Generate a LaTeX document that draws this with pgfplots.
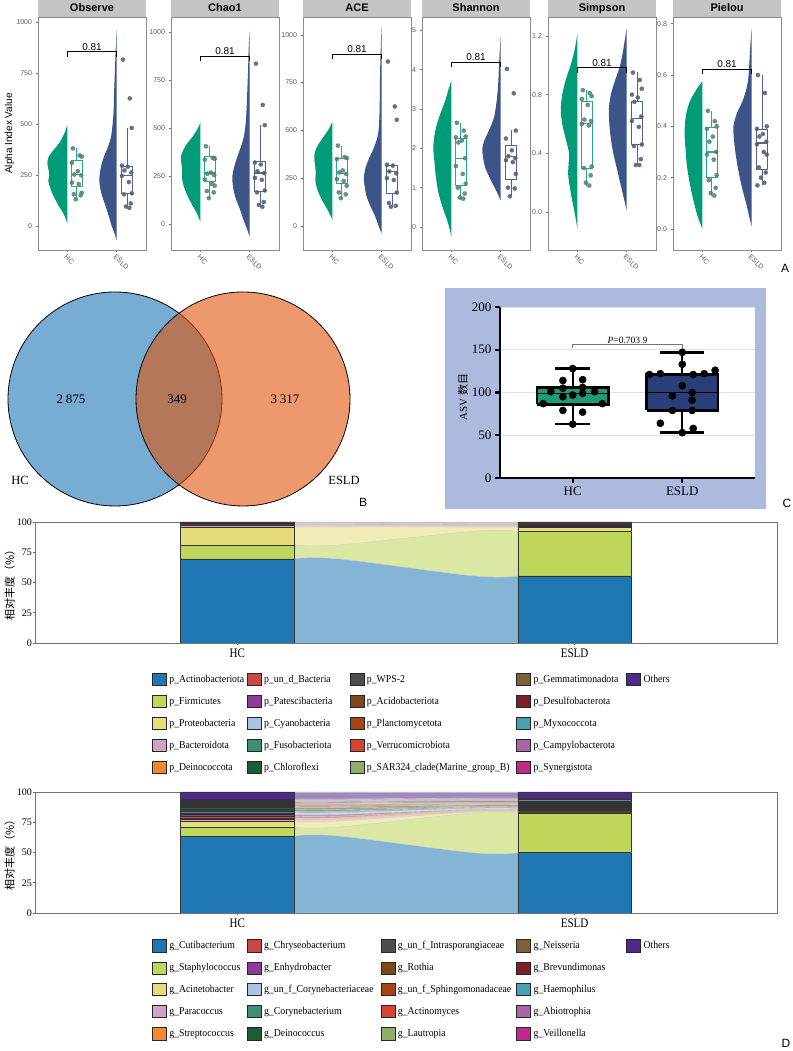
\documentclass[border=0pt]{standalone}
\usepackage{fontspec}
\setmainfont{Liberation Serif}
\setsansfont{Liberation Sans}
\newfontfamily\cjk{Noto Sans CJK SC}
\usepackage{graphicx}
\usepackage{pgfplots}
\usepackage{pgfplotstable}
\pgfplotsset{compat=1.18}

% colours
\definecolor{hcg}{RGB}{0,156,122}
\definecolor{esg}{RGB}{60,84,136}
\definecolor{hcbox}{RGB}{40,168,138}
\definecolor{esbox}{RGB}{78,98,148}
\definecolor{hcpt}{RGB}{62,138,118}
\definecolor{espt}{RGB}{72,86,126}
\definecolor{strip}{RGB}{196,196,196}
\definecolor{vblue}{RGB}{119,172,211}
\definecolor{vor}{RGB}{226,82,6}
\definecolor{cbg}{RGB}{172,186,222}
\definecolor{cgreen}{RGB}{31,154,120}
\definecolor{cnavy}{RGB}{42,62,122}
\definecolor{c1}{RGB}{31,119,180}
\definecolor{c2}{RGB}{190,214,90}
\definecolor{c3}{RGB}{230,220,120}
\definecolor{c4}{RGB}{206,164,194}
\definecolor{c5}{RGB}{242,136,48}
\definecolor{c6}{RGB}{200,72,72}
\definecolor{c7}{RGB}{142,58,152}
\definecolor{c8}{RGB}{172,194,224}
\definecolor{c9}{RGB}{62,144,112}
\definecolor{c10}{RGB}{27,94,53}
\definecolor{c11}{RGB}{77,77,77}
\definecolor{c12}{RGB}{123,74,26}
\definecolor{c13}{RGB}{168,67,22}
\definecolor{c14}{RGB}{214,68,54}
\definecolor{c15}{RGB}{143,174,106}
\definecolor{c16}{RGB}{125,95,58}
\definecolor{c17}{RGB}{122,32,40}
\definecolor{c18}{RGB}{74,160,176}
\definecolor{c19}{RGB}{168,102,168}
\definecolor{c20}{RGB}{192,40,138}
\definecolor{c21}{RGB}{79,42,140}

\tikzset{lab/.style={above, inner sep=1pt, font=\sffamily\fontsize{10}{11}\selectfont}}
\pgfplotsset{
  every axis title shift=0pt,
  facet/.style={
    scale only axis, width=108pt, height=233pt, anchor=south west,
    xmin=0.4, xmax=2.6, xtick={1,2}, xticklabels={HC,ESLD},
    axis line style={black!45, line width=0.6pt},
    tick style={black!55, line width=0.5pt}, tick align=outside, major tick length=2.5pt,
    xtick pos=bottom, ytick pos=left,
    /pgf/number format/assume math mode=true,
    /pgf/number format/1000 sep={},
    yticklabel style={font=\sffamily\fontsize{7}{8}\selectfont, text=black!65},
    xticklabel style={rotate=-45, anchor=north west, inner sep=1pt,
      font=\sffamily\fontsize{7}{8}\selectfont, text=black!65},
    title style={at={(0.5,1)}, anchor=south, fill=strip, minimum width=108pt,
      minimum height=17pt, inner sep=0pt, text height=8.2pt, text depth=2.3pt,
      font=\sffamily\bfseries\fontsize{11}{13}\selectfont},
  },
  hcv/.style={fill=hcg, draw=none, smooth, tension=0.5},
  esv/.style={fill=esg, draw=none, smooth, tension=0.5},
  hcb/.style={draw=hcbox, line width=0.7pt, no marks},
  esbx/.style={draw=esbox, line width=0.7pt, no marks},
  hcp/.style={only marks, mark=*, mark size=2.1pt,
    mark options={fill=hcpt, draw=black!55, line width=0.3pt, fill opacity=0.85}},
  esp/.style={only marks, mark=*, mark size=2.1pt,
    mark options={fill=espt, draw=black!55, line width=0.3pt, fill opacity=0.85}},
  brk/.style={black, line width=0.6pt, no marks},
  dax/.style={
    scale only axis, width=742pt, height=121pt, anchor=south west,
    xmin=0.4, xmax=2.6, ymin=0, ymax=100,
    xtick={1,2}, xticklabels={\scalebox{0.85}[1]{HC},\scalebox{0.85}[1]{ESLD}},
    ytick={0,25,50,75,100},
    axis line style={black!55, line width=0.6pt},
    tick style={black!60, line width=0.5pt}, tick align=outside, major tick length=2pt,
    xtick pos=bottom, ytick pos=left,
    /pgf/number format/assume math mode=true,
    yticklabel style={font=\fontsize{10}{11}\selectfont, inner sep=1pt},
    xticklabel style={font=\fontsize{13}{14}\selectfont},
    ylabel={\cjk 相对丰度（\%）},
    ylabel style={at={(axis description cs:-0.034,0.5)}, anchor=center,
      font=\fontsize{11}{12}\selectfont},
    legend columns=5, legend cell align=left,
    legend style={draw=none, fill=none, inner sep=0pt, outer sep=0pt,
      column sep=0pt, row sep=9.2pt, font=\fontsize{10.5}{12}\selectfont,
      nodes={inner sep=0pt, outer sep=0pt}},
  },
  dbar/.style={
    scale only axis, width=742pt, height=121pt, anchor=south west,
    xmin=0.4, xmax=2.6, ymin=0, ymax=100, hide axis,
    ybar stacked, bar width=0.336,
  },
  fl/.style={fill=#1!55!white, draw=black!18, line width=0.4pt, smooth, tension=0.6, forget plot},
  lk/.style={legend image code/.code={\draw[draw=black!85, line width=0.8pt, fill=#1] (0pt,-6pt) rectangle (14pt,6pt);}},
}

% box: style, left, right, centre, lower whisker, lower quartile, median, upper quartile, upper whisker
\newcommand\bx[9]{%
  \addplot[#1] coordinates {(#4,#5)(#4,#6)};
  \addplot[#1] coordinates {(#4,#8)(#4,#9)};
  \addplot[#1, fill=white] coordinates {(#2,#6)(#3,#6)(#3,#8)(#2,#8)(#2,#6)};
  \addplot[#1, line width=1.1pt] coordinates {(#2,#7)(#3,#7)};
}
\newcommand\lgi[3]{\addlegendimage{lk=#1}\addlegendentry{\makebox[#2][l]{\hspace{2.5pt}\scalebox{0.93}[1]{#3}}}}
\newcommand\lge{\addlegendimage{empty legend}\addlegendentry{}}

% phylum and genus composition (%), HC = 1, ESLD = 2
\pgfplotstableread{
x s1 s2 s3 s4 s5 s6 s7 s8 s9 s10 s11 s12 s13 s14 s15 s16 s17 s18 s19 s20 s21
1 69.5 11.5 15.0 1.3 0.4 0.3 0.3 0.3 0.3 0.2 0.2 0.15 0.1 0.1 0.05 0.05 0.05 0.05 0.05 0.05 0.05
2 55.5 36.8 3.5 0.8 0.6 0.5 0.3 0.3 0.2 0.2 0.2 0.2 0.2 0.1 0.1 0.1 0.1 0.1 0.1 0.05 0.05
}\phyBar
\pgfplotstableread{
x u1 u2 u3 u4 u5 u6 u7 u8 u9 u10 u11 u12 u13 u14 u15 u16 u17 u18 u19 u20 u21
1.168 69.5 81.0 96.0 97.3 97.7 98.0 98.3 98.6 98.9 99.1 99.3 99.45 99.55 99.65 99.7 99.75 99.8 99.85 99.9 99.95 100
1.30 69.5 81.0 96.0 97.3 97.7 98.0 98.3 98.6 98.9 99.1 99.3 99.45 99.55 99.65 99.7 99.75 99.8 99.85 99.9 99.95 100
1.70 55.5 92.3 95.8 96.6 97.2 97.7 98.0 98.3 98.5 98.7 98.9 99.1 99.3 99.4 99.5 99.6 99.7 99.8 99.9 99.95 100
1.832 55.5 92.3 95.8 96.6 97.2 97.7 98.0 98.3 98.5 98.7 98.9 99.1 99.3 99.4 99.5 99.6 99.7 99.8 99.9 99.95 100
}\phyFlow
\pgfplotstableread{
x s1 s2 s3 s4 s5 s6 s7 s8 s9 s10 s11 s12 s13 s14 s15 s16 s17 s18 s19 s20 s21
1 63.6 7.4 5.0 1.6 1.0 1.4 1.6 1.2 1.3 1.4 1.6 1.0 1.0 0.8 0.6 0.8 0.8 0.8 0.7 0.6 5.8
2 49.8 33.0 0.7 0.3 1.2 0.3 0.3 0.8 0.8 0.3 0.5 1.2 0.4 0.8 0.4 0.9 1.0 1.0 0.6 0.7 5.0
}\genBar
\pgfplotstableread{
x u1 u2 u3 u4 u5 u6 u7 u8 u9 u10 u11 u12 u13 u14 u15 u16 u17 u18 u19 u20 u21
1.168 63.6 71.0 76.0 77.6 78.6 80.0 81.6 82.8 84.1 85.5 87.1 88.1 89.1 89.9 90.5 91.3 92.1 92.9 93.6 94.2 100
1.30 63.6 71.0 76.0 77.6 78.6 80.0 81.6 82.8 84.1 85.5 87.1 88.1 89.1 89.9 90.5 91.3 92.1 92.9 93.6 94.2 100
1.70 49.8 82.8 83.5 83.8 85.0 85.3 85.6 86.4 87.2 87.5 88.0 89.2 89.6 90.4 90.8 91.7 92.7 93.7 94.3 95.0 100
1.832 49.8 82.8 83.5 83.8 85.0 85.3 85.6 86.4 87.2 87.5 88.0 89.2 89.6 90.4 90.8 91.7 92.7 93.7 94.3 95.0 100
}\genFlow

\begin{document}
\begin{tikzpicture}
\useasboundingbox (0,0) rectangle (792pt,1051pt);

% ---------------- A: Observe
\begin{axis}[facet, at={(38pt,801pt)}, title=Observe, ymin=-118, ymax=1024,
  ytick={0,250,500,750,1000}, ylabel={Alpha Index Value},
  ylabel style={at={(axis description cs:-0.264,0.5)}, anchor=center,
    font=\sffamily\fontsize{10}{12}\selectfont}]
\addplot[hcv] table[x expr=1-\thisrow{w}, y=v, row sep=\\]{v w\\ 13 0\\ 60 0.08\\ 95 0.17\\ 130 0.25\\ 160 0.31\\ 200 0.37\\ 225 0.39\\ 250 0.37\\ 280 0.39\\ 310 0.41\\ 340 0.38\\ 370 0.29\\ 405 0.17\\ 450 0.07\\ 495 0\\};
\addplot[esv] table[x expr=2-\thisrow{w}, y=v, row sep=\\]{v w\\ -70 0\\ -30 0.05\\ 0 0.10\\ 50 0.16\\ 95 0.22\\ 160 0.31\\ 217 0.35\\ 258 0.34\\ 307 0.30\\ 350 0.24\\ 390 0.17\\ 440 0.11\\ 500 0.08\\ 560 0.06\\ 650 0.05\\ 750 0.035\\ 850 0.02\\ 960 0\\};
\bx{hcb}{1.08}{1.30}{1.19}{131}{196}{250}{320}{380}
\bx{esbx}{2.10}{2.32}{2.21}{88}{160}{245}{294}{480}
\addplot[hcp] coordinates {(1.11,380)(1.25,345)(1.29,340)(1.09,310)(1.21,268)(1.14,252)(1.28,248)(1.09,212)(1.23,205)(1.29,162)(1.13,155)(1.27,150)(1.17,131)};
\addplot[esp] coordinates {(2.13,815)(2.27,625)(2.31,480)(2.11,295)(2.23,290)(2.16,272)(2.30,262)(2.11,245)(2.25,215)(2.31,160)(2.15,155)(2.29,110)(2.19,95)(2.26,88)};
\addplot[brk] coordinates {(1,830)(1,855)(2,855)(2,830)};
\node[lab] at (axis cs:1.5,855) {0.81};
\end{axis}

% ---------------- A: Chao1
\begin{axis}[facet, at={(171pt,801pt)}, title=Chao1, ymin=-135, ymax=1078,
  ytick={0,250,500,750,1000}]
\addplot[hcv] table[x expr=1-\thisrow{w}, y=v, row sep=\\]{v w\\ 12 0\\ 60 0.08\\ 100 0.17\\ 140 0.25\\ 175 0.31\\ 215 0.36\\ 250 0.38\\ 280 0.37\\ 320 0.39\\ 350 0.40\\ 385 0.35\\ 420 0.27\\ 455 0.16\\ 495 0.06\\ 529 0\\};
\addplot[esv] table[x expr=2-\thisrow{w}, y=v, row sep=\\]{v w\\ -64 0\\ -20 0.06\\ 20 0.12\\ 80 0.20\\ 140 0.29\\ 200 0.34\\ 250 0.35\\ 300 0.31\\ 350 0.25\\ 400 0.18\\ 450 0.12\\ 520 0.08\\ 600 0.06\\ 700 0.045\\ 800 0.03\\ 900 0.02\\ 1003 0\\};
\bx{hcb}{1.08}{1.30}{1.19}{135}{224}{266}{355}{405}
\bx{esbx}{2.10}{2.32}{2.21}{90}{172}{266}{324}{515}
\addplot[hcp] coordinates {(1.11,405)(1.25,345)(1.29,340)(1.09,335)(1.21,268)(1.14,262)(1.28,255)(1.09,232)(1.23,210)(1.29,200)(1.13,172)(1.27,165)(1.17,135)};
\addplot[esp] coordinates {(2.13,835)(2.27,620)(2.31,515)(2.11,320)(2.23,310)(2.16,275)(2.30,265)(2.11,240)(2.25,230)(2.31,175)(2.15,165)(2.29,115)(2.19,100)(2.26,90)};
\addplot[brk] coordinates {(1,848)(1,874)(2,874)(2,848)};
\node[lab] at (axis cs:1.5,874) {0.81};
\end{axis}

% ---------------- A: ACE
\begin{axis}[facet, at={(303pt,801pt)}, title=ACE, ymin=-126, ymax=1093,
  ytick={0,250,500,750,1000}]
\addplot[hcv] table[x expr=1-\thisrow{w}, y=v, row sep=\\]{v w\\ 31 0\\ 80 0.09\\ 120 0.18\\ 160 0.26\\ 200 0.32\\ 240 0.35\\ 270 0.34\\ 310 0.35\\ 350 0.37\\ 385 0.36\\ 420 0.30\\ 460 0.20\\ 500 0.09\\ 546 0\\};
\addplot[esv] table[x expr=2-\thisrow{w}, y=v, row sep=\\]{v w\\ -38 0\\ 0 0.06\\ 50 0.13\\ 100 0.22\\ 150 0.30\\ 200 0.34\\ 250 0.36\\ 300 0.33\\ 350 0.26\\ 400 0.17\\ 450 0.10\\ 500 0.06\\ 600 0.04\\ 700 0.035\\ 800 0.03\\ 900 0.02\\ 1044 0\\};
\bx{hcb}{1.08}{1.30}{1.19}{145}{223}{276}{354}{420}
\bx{esbx}{2.10}{2.32}{2.21}{100}{171}{284}{319}{325}
\addplot[hcp] coordinates {(1.11,420)(1.25,360)(1.29,355)(1.09,350)(1.21,290)(1.14,280)(1.28,272)(1.09,245)(1.23,235)(1.29,210)(1.13,175)(1.27,165)(1.17,145)};
\addplot[esp] coordinates {(2.13,860)(2.27,625)(2.31,555)(2.11,320)(2.23,315)(2.16,285)(2.30,275)(2.11,250)(2.25,240)(2.31,175)(2.15,120)(2.29,105)(2.19,100)};
\addplot[brk] coordinates {(1,874)(1,900)(2,900)(2,874)};
\node[lab] at (axis cs:1.5,900) {0.81};
\end{axis}

% ---------------- A: Shannon
\begin{axis}[facet, at={(422pt,801pt)}, title=Shannon, ymin=-0.585, ymax=5.34,
  ytick={0,1,2,3,4,5}]
\addplot[hcv] table[x expr=1-\thisrow{w}, y=v, row sep=\\]{v w\\ -0.25 0\\ 0.1 0.07\\ 0.5 0.18\\ 0.9 0.27\\ 1.3 0.32\\ 1.7 0.35\\ 2.0 0.37\\ 2.3 0.35\\ 2.6 0.30\\ 2.9 0.22\\ 3.2 0.13\\ 3.5 0.06\\ 3.73 0\\};
\addplot[esv] table[x expr=2-\thisrow{w}, y=v, row sep=\\]{v w\\ 0.68 0\\ 0.9 0.08\\ 1.2 0.20\\ 1.5 0.31\\ 1.8 0.36\\ 2.0 0.37\\ 2.2 0.33\\ 2.5 0.22\\ 2.8 0.13\\ 3.2 0.08\\ 3.6 0.05\\ 4.0 0.035\\ 4.4 0.02\\ 4.83 0\\};
\bx{hcb}{1.08}{1.30}{1.19}{0.72}{1.06}{1.74}{2.25}{2.65}
\bx{esbx}{2.10}{2.32}{2.21}{0.78}{1.2}{1.8}{2.08}{2.46}
\addplot[hcp] coordinates {(1.11,2.65)(1.25,2.45)(1.29,2.30)(1.09,2.28)(1.21,2.20)(1.14,2.15)(1.28,1.75)(1.09,1.55)(1.23,1.35)(1.29,1.10)(1.13,1.00)(1.27,0.85)(1.17,0.75)(1.24,0.72)};
\addplot[esp] coordinates {(2.13,4.02)(2.27,3.40)(2.31,2.45)(2.11,2.25)(2.23,1.95)(2.16,1.80)(2.30,1.75)(2.11,1.70)(2.25,1.65)(2.31,1.35)(2.15,1.00)(2.29,0.98)(2.19,0.78)};
\addplot[brk] coordinates {(1,4.06)(1,4.19)(2,4.19)(2,4.06)};
\node[lab] at (axis cs:1.5,4.19) {0.81};
\end{axis}

% ---------------- A: Simpson
\begin{axis}[facet, at={(548pt,801pt)}, title=Simpson, ymin=-0.259, ymax=1.329,
  ytick={0,0.4,0.8,1.2},
  yticklabel style={/pgf/number format/.cd, fixed, fixed zerofill, precision=1}]
\addplot[hcv] table[x expr=1-\thisrow{w}, y=v, row sep=\\]{v w\\ -0.12 0\\ 0.0 0.06\\ 0.1 0.12\\ 0.2 0.17\\ 0.26 0.19\\ 0.33 0.18\\ 0.4 0.17\\ 0.5 0.24\\ 0.6 0.31\\ 0.7 0.34\\ 0.8 0.31\\ 0.9 0.24\\ 1.0 0.14\\ 1.1 0.06\\ 1.22 0\\};
\addplot[esv] table[x expr=2-\thisrow{w}, y=v, row sep=\\]{v w\\ 0.014 0\\ 0.1 0.06\\ 0.2 0.13\\ 0.3 0.20\\ 0.4 0.27\\ 0.5 0.32\\ 0.6 0.35\\ 0.7 0.36\\ 0.8 0.32\\ 0.9 0.23\\ 1.0 0.13\\ 1.1 0.07\\ 1.25 0\\};
\bx{hcb}{1.08}{1.30}{1.19}{0.18}{0.30}{0.60}{0.757}{0.83}
\bx{esbx}{2.10}{2.32}{2.21}{0.32}{0.46}{0.64}{0.757}{0.957}
\addplot[hcp] coordinates {(1.11,0.83)(1.25,0.81)(1.29,0.79)(1.09,0.77)(1.21,0.73)(1.14,0.63)(1.28,0.62)(1.09,0.60)(1.23,0.59)(1.29,0.31)(1.13,0.30)(1.27,0.25)(1.17,0.20)(1.24,0.18)};
\addplot[esp] coordinates {(2.13,0.95)(2.27,0.90)(2.31,0.84)(2.11,0.80)(2.23,0.78)(2.16,0.75)(2.30,0.65)(2.11,0.62)(2.25,0.58)(2.31,0.46)(2.15,0.45)(2.29,0.36)(2.19,0.32)(2.26,0.32)};
\addplot[brk] coordinates {(1,0.95)(1,0.984)(2,0.984)(2,0.95)};
\node[lab] at (axis cs:1.5,0.984) {0.81};
\end{axis}

% ---------------- A: Pielou
\begin{axis}[facet, at={(673pt,801pt)}, title=Pielou, ymin=-0.082, ymax=0.826,
  ytick={0,0.2,0.4,0.6,0.8},
  yticklabel style={/pgf/number format/.cd, fixed, fixed zerofill, precision=1}]
\addplot[hcv] table[x expr=1-\thisrow{w}, y=v, row sep=\\]{v w\\ 0 0\\ 0.05 0.10\\ 0.1 0.17\\ 0.15 0.23\\ 0.2 0.28\\ 0.25 0.32\\ 0.3 0.34\\ 0.35 0.36\\ 0.4 0.36\\ 0.45 0.33\\ 0.5 0.25\\ 0.55 0.10\\ 0.575 0\\};
\addplot[esv] table[x expr=2-\thisrow{w}, y=v, row sep=\\]{v w\\ 0.01 0\\ 0.05 0.05\\ 0.1 0.11\\ 0.15 0.18\\ 0.2 0.24\\ 0.25 0.29\\ 0.3 0.33\\ 0.35 0.36\\ 0.4 0.37\\ 0.45 0.30\\ 0.5 0.18\\ 0.55 0.10\\ 0.6 0.06\\ 0.7 0.03\\ 0.78 0\\};
\bx{hcb}{1.08}{1.30}{1.19}{0.13}{0.20}{0.30}{0.396}{0.46}
\bx{esbx}{2.10}{2.32}{2.21}{0.17}{0.234}{0.335}{0.387}{0.60}
\addplot[hcp] coordinates {(1.11,0.46)(1.25,0.42)(1.29,0.40)(1.09,0.39)(1.21,0.36)(1.14,0.34)(1.28,0.30)(1.09,0.29)(1.23,0.27)(1.29,0.21)(1.13,0.19)(1.27,0.16)(1.17,0.14)(1.24,0.13)};
\addplot[esp] coordinates {(2.13,0.60)(2.27,0.53)(2.31,0.40)(2.11,0.39)(2.23,0.37)(2.16,0.36)(2.30,0.34)(2.11,0.33)(2.25,0.30)(2.31,0.29)(2.15,0.24)(2.29,0.22)(2.19,0.20)(2.26,0.18)(2.12,0.17)};
\addplot[brk] coordinates {(1,0.603)(1,0.623)(2,0.623)(2,0.603)};
\node[lab] at (axis cs:1.5,0.623) {0.81};
\end{axis}

% ---------------- C: ASV counts
\fill[cbg] (445pt,542pt) rectangle (766pt,763pt);
\begin{axis}[scale only axis, width=255pt, height=171pt, at={(500pt,573pt)}, anchor=south west,
  xmin=0.336, xmax=2.664, ymin=0, ymax=200,
  axis x line*=bottom, axis y line*=left,
  axis line style={line width=2.4pt, black},
  tick style={line width=2.2pt, black}, tick align=outside, major tick length=5pt,
  xtick={1,2}, xticklabels={HC,ESLD}, ytick={0,50,100,150,200},
  ymajorgrids, grid style={black!12, line width=0.6pt},
  axis background/.style={fill=white},
  ticklabel style={font=\fontsize{13}{14}\selectfont},
  /pgf/number format/assume math mode=true,
  ylabel={ASV {\cjk 数目}},
  ylabel style={at={(axis description cs:-0.145,0.474)}, anchor=center, font=\fontsize{11}{12}\selectfont},
  clip=false]
% HC box
\addplot[black, line width=2.4pt, no marks] coordinates {(1,63)(1,86)};
\addplot[black, line width=2.4pt, no marks] coordinates {(1,106)(1,128)};
\addplot[black, line width=2.4pt, no marks] coordinates {(0.84,63)(1.16,63)};
\addplot[black, line width=2.4pt, no marks] coordinates {(0.84,128)(1.16,128)};
\addplot[black, line width=2.4pt, fill=cgreen, no marks] coordinates {(0.675,86)(1.325,86)(1.325,106)(0.675,106)(0.675,86)};
\addplot[black, line width=1.6pt, no marks] coordinates {(0.675,99)(1.325,99)};
% ESLD box
\addplot[black, line width=2.4pt, no marks] coordinates {(2,53)(2,79)};
\addplot[black, line width=2.4pt, no marks] coordinates {(2,121)(2,147)};
\addplot[black, line width=2.4pt, no marks] coordinates {(1.8,53)(2.2,53)};
\addplot[black, line width=2.4pt, no marks] coordinates {(1.8,147)(2.2,147)};
\addplot[black, line width=2.4pt, fill=cnavy, no marks] coordinates {(1.675,79)(2.325,79)(2.325,121)(1.675,121)(1.675,79)};
\addplot[black, line width=1.6pt, no marks] coordinates {(1.675,100)(2.325,100)};
\addplot[only marks, mark=*, mark size=3.6pt, black] coordinates {(1,128)(0.91,114)(1.09,115)(0.91,105)(1.09,106)(0.8,101)(1.2,101)(0.91,95)(1.09,99)(1,97)(0.73,87)(1.27,87)(0.91,79)(1.09,77)(1,63)};
\addplot[only marks, mark=*, mark size=3.6pt, black] coordinates {(2,147)(2,133)(1.8,122)(2.2,122)(1.7,121)(2.1,121)(2.3,126)(2,108)(1.91,96)(2.09,100)(2.09,91)(1.91,79)(2.09,79)(1.8,64)(2.1,58)(2,53)};
\addplot[black!55, line width=0.6pt, no marks] coordinates {(1,152)(1,156)(2,156)(2,152)};
\node[above, inner sep=1pt, font=\fontsize{9.5}{10}\selectfont] at (axis cs:1.5,156) {\textit{P}=0.703\hspace{2.5pt}9};
\end{axis}

% ---------------- D: phylum
\begin{axis}[dax, at={(35pt,408pt)},
  legend style={at={(0.1577,-0.252)}, anchor=north west}]
\pgfplotsinvokeforeach{21,20,...,1}{\addplot[fl=c#1] table[x=x,y=u#1]{\phyFlow} \closedcycle;}
\lgi{c1}{80pt}{p\_Actinobacteriota}\lgi{c6}{88pt}{p\_un\_d\_Bacteria}\lgi{c11}{152pt}{p\_WPS-2}\lgi{c16}{95pt}{p\_Gemmatimonadota}\lgi{c21}{40pt}{Others}
\lgi{c2}{80pt}{p\_Firmicutes}\lgi{c7}{88pt}{p\_Patescibacteria}\lgi{c12}{152pt}{p\_Acidobacteriota}\lgi{c17}{95pt}{p\_Desulfobacterota}\lge
\lgi{c3}{80pt}{p\_Proteobacteria}\lgi{c8}{88pt}{p\_Cyanobacteria}\lgi{c13}{152pt}{p\_Planctomycetota}\lgi{c18}{95pt}{p\_Myxococcota}\lge
\lgi{c4}{80pt}{p\_Bacteroidota}\lgi{c9}{88pt}{p\_Fusobacteriota}\lgi{c14}{152pt}{p\_Verrucomicrobiota}\lgi{c19}{95pt}{p\_Campylobacterota}\lge
\lgi{c5}{80pt}{p\_Deinococcota}\lgi{c10}{88pt}{p\_Chloroflexi}\lgi{c15}{152pt}{p\_SAR324\_clade(Marine\_group\_B)}\lgi{c20}{95pt}{p\_Synergistota}\lge
\end{axis}
\begin{axis}[dbar, at={(35pt,408pt)}]
\pgfplotsinvokeforeach{1,...,21}{\addplot[fill=c#1, draw=black!80, line width=0.5pt, forget plot] table[x=x,y=s#1]{\phyBar};}
\end{axis}

% ---------------- D: genus
\begin{axis}[dax, at={(35pt,138pt)},
  legend style={at={(0.1577,-0.219)}, anchor=north west}]
\pgfplotsinvokeforeach{21,20,...,1}{\addplot[fl=c#1] table[x=x,y=u#1]{\genFlow} \closedcycle;}
\lgi{c1}{80pt}{g\_Cutibacterium}\lgi{c6}{119pt}{g\_Chryseobacterium}\lgi{c11}{121pt}{g\_un\_f\_Intrasporangiaceae}\lgi{c16}{95pt}{g\_Neisseria}\lgi{c21}{40pt}{Others}
\lgi{c2}{80pt}{g\_Staphylococcus}\lgi{c7}{119pt}{g\_Enhydrobacter}\lgi{c12}{121pt}{g\_Rothia}\lgi{c17}{95pt}{g\_Brevundimonas}\lge
\lgi{c3}{80pt}{g\_Acinetobacter}\lgi{c8}{119pt}{g\_un\_f\_Corynebacteriaceae}\lgi{c13}{121pt}{g\_un\_f\_Sphingomonadaceae}\lgi{c18}{95pt}{g\_Haemophilus}\lge
\lgi{c4}{80pt}{g\_Paracoccus}\lgi{c9}{119pt}{g\_Corynebacterium}\lgi{c14}{121pt}{g\_Actinomyces}\lgi{c19}{95pt}{g\_Abiotrophia}\lge
\lgi{c5}{80pt}{g\_Streptococcus}\lgi{c10}{119pt}{g\_Deinococcus}\lgi{c15}{121pt}{g\_Lautropia}\lgi{c20}{95pt}{g\_Veillonella}\lge
\end{axis}
\begin{axis}[dbar, at={(35pt,138pt)}]
\pgfplotsinvokeforeach{1,...,21}{\addplot[fill=c#1, draw=black!80, line width=0.5pt, forget plot] table[x=x,y=s#1]{\genBar};}
\end{axis}

% ---------------- B: Venn
\begin{axis}[scale only axis, width=792pt, height=1051pt, at={(0pt,0pt)}, anchor=south west,
  xmin=0, xmax=792, ymin=0, ymax=1051, hide axis, clip=false]
\addplot[only marks, mark=*, mark size=107pt, mark options={fill=vblue, draw=black, line width=0.8pt}] coordinates {(115,652)};
\addplot[only marks, mark=*, mark size=107pt, mark options={fill=vor, fill opacity=0.59, draw=black, draw opacity=1, line width=0.8pt}] coordinates {(243,652)};
\end{axis}

% texts of panel B and panel letters
\node[font=\fontsize{13}{14}\selectfont] at (71pt,652pt) {2\hspace{3pt}875};
\node[font=\fontsize{13}{14}\selectfont] at (177pt,652pt) {349};
\node[font=\fontsize{13}{14}\selectfont] at (285pt,652pt) {3\hspace{3pt}317};
\node[font=\fontsize{12.5}{14}\selectfont] at (20pt,571pt) {HC};
\node[font=\fontsize{12.5}{14}\selectfont] at (344pt,571pt) {ESLD};
\node[font=\sffamily\fontsize{12}{13}\selectfont] at (785pt,783pt) {A};
\node[font=\sffamily\fontsize{12}{13}\selectfont] at (363pt,549pt) {B};
\node[font=\sffamily\fontsize{12}{13}\selectfont] at (787pt,548pt) {C};
\node[font=\sffamily\fontsize{12}{13}\selectfont] at (786pt,8pt) {D};
\end{tikzpicture}
\end{document}
